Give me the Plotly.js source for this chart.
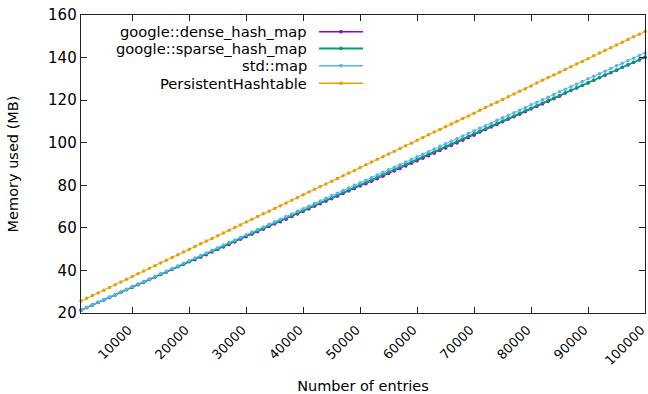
<!DOCTYPE html>
<html>
<head>
<meta charset="utf-8">
<script src="https://cdn.plot.ly/plotly-3.0.1.min.js"></script>
<style>html,body{margin:0;padding:0;background:#fff}#chart{width:648px;height:394px}</style>
</head>
<body>
<div id="chart"></div>
<script>
const entries = [1000,2000,3000,4000,5000,6000,7000,8000,9000,10000,
11000,12000,13000,14000,15000,16000,17000,18000,19000,20000,
21000,22000,23000,24000,25000,26000,27000,28000,29000,30000,
31000,32000,33000,34000,35000,36000,37000,38000,39000,40000,
41000,42000,43000,44000,45000,46000,47000,48000,49000,50000,
51000,52000,53000,54000,55000,56000,57000,58000,59000,60000,
61000,62000,63000,64000,65000,66000,67000,68000,69000,70000,
71000,72000,73000,74000,75000,76000,77000,78000,79000,80000,
81000,82000,83000,84000,85000,86000,87000,88000,89000,90000,
91000,92000,93000,94000,95000,96000,97000,98000,99000,100000];

const denseHashMap = [21.3,22.5,23.7,24.9,26.1,27.3,28.5,29.7,30.9,32.1,
33.3,34.5,35.7,36.9,38.1,39.3,40.5,41.7,42.9,44.1,
45.0,46.2,47.4,48.6,49.8,51.0,52.2,53.4,54.6,55.8,
57.0,58.2,59.4,60.6,61.8,62.9,64.1,65.3,66.5,67.7,
68.9,70.1,71.3,72.5,73.7,74.9,76.1,77.3,78.5,79.7,
80.7,81.9,83.1,84.3,85.5,86.7,87.9,89.1,90.3,91.5,
92.7,93.9,95.1,96.3,97.5,98.7,99.9,101.1,102.3,103.5,
105.0,106.2,107.4,108.6,109.8,111.0,112.2,113.4,114.6,115.8,
117.0,118.2,119.4,120.6,121.8,123.3,124.5,125.7,126.9,128.1,
129.3,130.5,131.7,132.9,134.1,135.3,136.5,137.7,138.9,140.1];

const sparseHashMap = [21.4,22.6,23.8,25.0,26.2,27.4,28.6,29.8,31.0,32.2,
33.4,34.6,35.8,37.0,38.2,39.4,40.6,41.8,43.0,44.2,
45.4,46.6,47.8,49.0,50.2,51.4,52.6,53.8,55.0,56.2,
57.4,58.6,59.8,61.0,62.2,63.4,64.6,65.8,67.0,68.2,
69.4,70.6,71.8,73.0,74.2,75.4,76.6,77.8,79.0,80.2,
81.4,82.6,83.8,85.0,86.2,87.4,88.6,89.8,91.0,92.2,
93.4,94.6,95.8,97.0,98.2,99.4,100.6,101.8,103.0,104.2,
105.4,106.6,107.8,109.0,110.2,111.4,112.6,113.8,115.0,116.2,
117.4,118.6,119.8,121.0,122.2,123.4,124.6,125.8,127.0,128.2,
129.4,130.6,131.8,133.0,134.2,135.4,136.6,137.8,139.0,140.2];

const stdMap = [21.4,22.6,23.8,25.1,26.3,27.5,28.7,29.9,31.2,32.4,
33.6,34.8,36.0,37.3,38.5,39.7,40.9,42.1,43.4,44.6,
45.8,47.0,48.2,49.5,50.7,51.9,53.1,54.3,55.6,56.8,
58.0,59.2,60.4,61.7,62.9,64.1,65.3,66.5,67.8,69.0,
70.2,71.4,72.6,73.9,75.1,76.3,77.5,78.7,80.0,81.2,
82.4,83.6,84.8,86.1,87.3,88.5,89.7,90.9,92.2,93.4,
94.6,95.8,97.0,98.3,99.5,100.7,101.9,103.1,104.4,105.6,
106.8,108.0,109.2,110.5,111.7,112.9,114.1,115.3,116.6,117.8,
119.0,120.2,121.4,122.7,123.9,125.1,126.3,127.5,128.8,130.0,
131.2,132.4,133.6,134.9,136.1,137.3,138.5,139.7,141.0,142.2];

const persistentHashtable = [25.6,26.9,28.2,29.4,30.7,32.0,33.3,34.6,35.8,37.1,
38.4,39.7,41.0,42.2,43.5,44.8,46.1,47.4,48.6,49.9,
51.2,52.5,53.8,55.0,56.3,57.6,58.9,60.2,61.4,62.7,
64.0,65.3,66.6,67.8,69.1,70.4,71.7,73.0,74.2,75.5,
76.8,78.1,79.4,80.6,81.9,83.2,84.5,85.8,87.0,88.3,
89.6,90.9,92.2,93.4,94.7,96.0,97.3,98.6,99.8,101.1,
102.4,103.7,105.0,106.2,107.5,108.8,110.1,111.4,112.6,113.9,
115.2,116.5,117.8,119.0,120.3,121.6,122.9,124.2,125.4,126.7,
128.0,129.3,130.6,131.8,133.1,134.4,135.7,137.0,138.2,139.5,
140.8,142.1,143.4,144.6,145.9,147.2,148.5,149.8,151.0,152.3];

const seriesNames = ["google::dense_hash_map","google::sparse_hash_map","std::map","PersistentHashtable"];
const seriesValues = [denseHashMap, sparseHashMap, stdMap, persistentHashtable];
const seriesColors = ["#9400d3","#009e73","#56b4e9","#e69f00"];
const seriesWidths = [1, 1.5, 1, 1];
const xTicks = [10000,20000,30000,40000,50000,60000,70000,80000,90000,100000];
const yTicks = [20,40,60,80,100,120,140,160];

const FONT = "DejaVu Sans, sans-serif";
const traces = seriesNames.map((n,i)=>({
  type:"scatter", mode:"lines+markers", name:n,
  x: entries, y: seriesValues[i],
  line:{color:seriesColors[i], width:seriesWidths[i]},
  marker:{color:seriesColors[i], size:3.5, symbol:"circle"},
  showlegend:false, hoverinfo:"skip", cliponaxis:false
}));

// custom gnuplot-style legend: right-aligned text, sample on the right
const legY = [0.944, 0.888, 0.830, 0.771];
const annotations = seriesNames.map((n,i)=>({
  xref:"paper", yref:"paper", x:0.405, y:legY[i], xanchor:"right", yanchor:"middle",
  text:n, showarrow:false, font:{family:FONT, size:14.7, color:"#000"}
}));
const shapes = [];
seriesNames.forEach((n,i)=>{
  shapes.push({type:"line", xref:"paper", yref:"paper", x0:0.422, x1:0.5, y0:legY[i], y1:legY[i],
    line:{color:seriesColors[i], width:seriesWidths[i]+0.5}});
  shapes.push({type:"rect", xref:"paper", yref:"paper", x0:0.4585, x1:0.4635, y0:legY[i]-0.0055, y1:legY[i]+0.0055,
    line:{width:0}, fillcolor:seriesColors[i]});
});

const axisCommon = {
  showline:true, linecolor:"#222", linewidth:1.3, mirror:"ticks",
  ticks:"inside", ticklen:6, tickwidth:1, tickcolor:"#222",
  showgrid:false, zeroline:false, ticklabeloverflow:"allow",
  tickfont:{family:FONT, size:15, color:"#000"}
};

const layout = {
  width:648, height:394,
  margin:{l:81, r:3, t:15, b:81},
  paper_bgcolor:"#fff", plot_bgcolor:"#fff",
  font:{family:FONT, size:14, color:"#000"},
  xaxis:Object.assign({}, axisCommon, {
    range:[1000,100000.01], tickmode:"array", tickvals:xTicks, ticktext:xTicks.map(String),
    tickangle:-45, ticklabelshift:-4, ticklabelstandoff:3, tickfont:{family:FONT, size:13, color:"#000"},
    title:{text:"Number of entries", font:{family:FONT, size:14.5, color:"#000"}, standoff:21}
  }),
  yaxis:Object.assign({}, axisCommon, {
    range:[20,160], tickmode:"array", tickvals:yTicks, ticktext:yTicks.map(String),
    title:{text:"Memory used (MB)", font:{family:FONT, size:14.5, color:"#000"}, standoff:26}
  }),
  annotations:annotations, shapes:shapes, showlegend:false
};

Plotly.newPlot("chart", traces, layout, {displayModeBar:false, staticPlot:true});
</script>
</body>
</html>
